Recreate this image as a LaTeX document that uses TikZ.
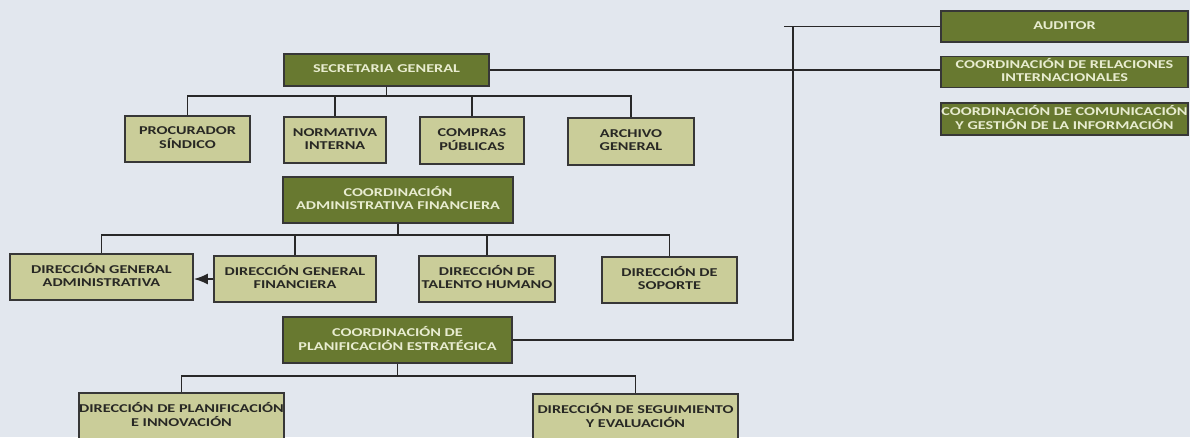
\documentclass[tikz,border=0pt]{standalone}
\usepackage{fontspec}
\setmainfont{Carlito}
\usepackage{graphicx}
\usetikzlibrary{arrows.meta}
\definecolor{bgc}{RGB}{226,231,238}
\definecolor{darkg}{RGB}{104,121,48}
\definecolor{lightg}{RGB}{202,205,153}
\definecolor{bordc}{RGB}{55,55,55}
\definecolor{linec}{RGB}{40,40,40}
\definecolor{dtext}{RGB}{232,236,208}
\definecolor{ltext}{RGB}{40,40,36}
\newcommand{\stx}[1]{\scalebox{1.35}[1]{\begin{tabular}{@{}c@{}}#1\end{tabular}}}
\tikzset{
  orgbox/.style={draw=bordc, line width=1.8pt, inner sep=0pt, align=center,
    font=\fontsize{12}{13}\selectfont\bfseries},
  darkbox/.style={orgbox, fill=darkg, text=dtext},
  lightbox/.style={orgbox, fill=lightg, text=ltext},
  conn/.style={draw=linec, line width=1.5pt},
}
\begin{document}
\begin{tikzpicture}[x=1pt,y=-1pt]
\fill[bgc] (0,0) rectangle (1190,437);
\useasboundingbox (0,0) rectangle (1190,437);
% top level
\node[darkbox, minimum width=205pt, minimum height=32pt] (SG) at (386.5,70) {\stx{SECRETARIA GENERAL}};
\node[lightbox, minimum width=125pt, minimum height=46pt] (PS) at (187.5,139) {\stx{PROCURADOR\\SÍNDICO}};
\node[lightbox, minimum width=102pt, minimum height=46pt] (NI) at (335,140) {\stx{NORMATIVA\\INTERNA}};
\node[lightbox, minimum width=104pt, minimum height=47pt] (CP) at (472,140.5) {\stx{COMPRAS\\PÚBLICAS}};
\node[lightbox, minimum width=126pt, minimum height=47pt] (AG) at (631,141.5) {\stx{ARCHIVO\\GENERAL}};
% second group
\node[darkbox, minimum width=230pt, minimum height=46pt] (CAF) at (398,200) {\stx{COORDINACIÓN\\ADMINISTRATIVA FINANCIERA}};
\node[lightbox, minimum width=183pt, minimum height=46pt] (DGA) at (101.5,277) {\stx{DIRECCIÓN GENERAL\\ADMINISTRATIVA}};
\node[lightbox, minimum width=162pt, minimum height=46pt] (DGF) at (295,279) {\stx{DIRECCIÓN GENERAL\\FINANCIERA}};
\node[lightbox, minimum width=136pt, minimum height=46pt] (DTH) at (487,279) {\stx{DIRECCIÓN DE\\TALENTO HUMANO}};
\node[lightbox, minimum width=135pt, minimum height=46pt] (DS) at (669.5,280) {\stx{DIRECCIÓN DE\\SOPORTE}};
% third group
\node[darkbox, minimum width=229pt, minimum height=46pt] (CPE) at (397.5,340) {\stx{COORDINACIÓN DE\\PLANIFICACIÓN ESTRATÉGICA}};
\node[lightbox, minimum width=203pt, minimum height=46pt] (DPI) at (181.5,416) {\stx{DIRECCIÓN DE PLANIFICACIÓN\\E INNOVACIÓN}};
\node[lightbox, minimum width=205pt, minimum height=46pt] (DSE) at (635.5,417) {\stx{DIRECCIÓN DE SEGUIMIENTO\\Y EVALUACIÓN}};
% right column
\node[darkbox, minimum width=247pt, minimum height=31pt] (AUD) at (1064.5,26.5) {\stx{AUDITOR}};
\node[darkbox, minimum width=247pt, minimum height=31pt] (CRI) at (1064.5,72) {\stx{COORDINACIÓN DE RELACIONES\\INTERNACIONALES}};
\node[darkbox, minimum width=247pt, minimum height=32pt] (CCG) at (1064.5,119) {\stx{COORDINACIÓN DE COMUNICACIÓN\\Y GESTIÓN DE LA INFORMACIÓN}};
% coordinates
\coordinate (bus1) at (0,96);
\coordinate (bus2) at (0,235);
\coordinate (bus3) at (0,376);
\coordinate (trunk) at (793,26.5);
\coordinate (stubL) at (784,26.5);
% connectors: secretaria
\draw[conn] (SG.south) -- (SG.south |- bus1);
\draw[conn] (PS.north) -- (PS.north |- bus1) -| (AG.north);
\draw[conn] (NI.north) -- (NI.north |- bus1);
\draw[conn] (CP.north) -- (CP.north |- bus1);
\draw[conn] (SG.east) -- (SG.east -| CRI.west);
% connectors: CAF
\draw[conn] (CAF.south) -- (CAF.south |- bus2);
\draw[conn] (DGA.north) -- (DGA.north |- bus2) -| (DS.north);
\draw[conn] (DGF.north) -- (DGF.north |- bus2);
\draw[conn] (DTH.north) -- (DTH.north |- bus2);
\draw[conn, -{Latex[length=14pt,width=11pt]}] (DGF.west) -- (DGF.west -| DGA.east);
% connectors: CPE
\draw[conn] (CPE.south) -- (CPE.south |- bus3);
\draw[conn] (DPI.north) -- (DPI.north |- bus3) -| (DSE.north);
% trunk to right column
\draw[conn] (CPE.east) -| (trunk);
\draw[conn] (stubL) -- (AUD.west);
\end{tikzpicture}
\end{document}
